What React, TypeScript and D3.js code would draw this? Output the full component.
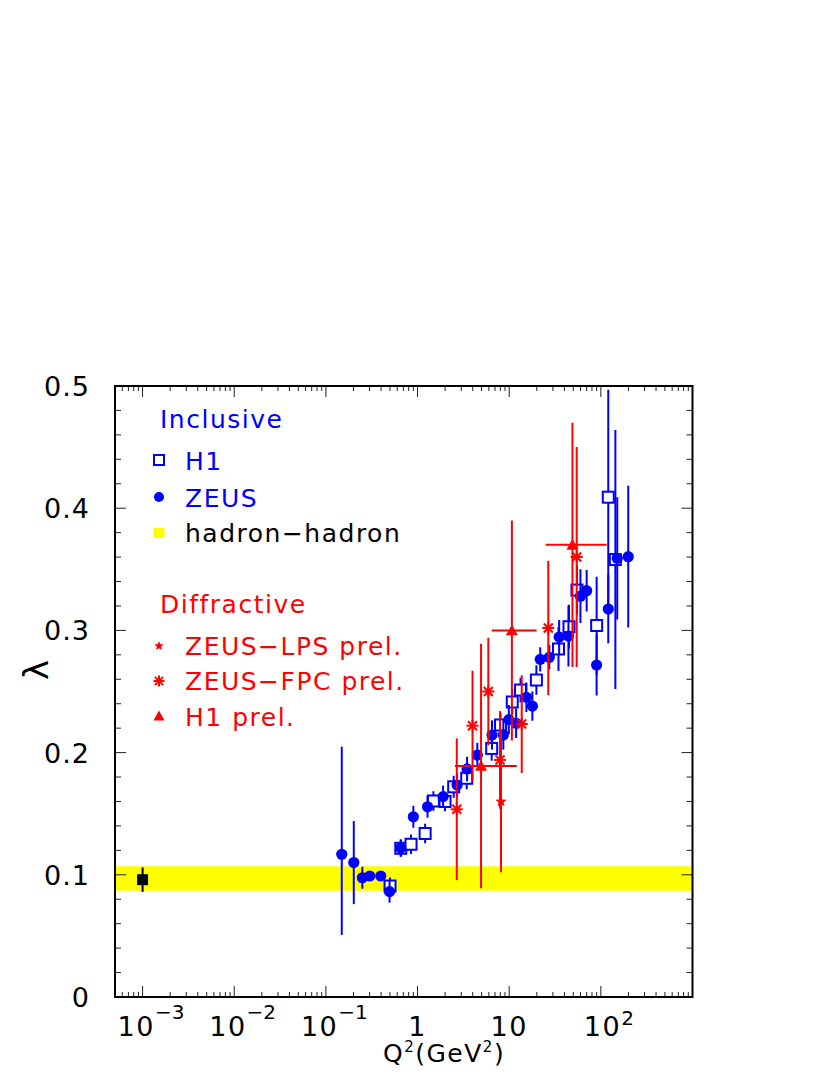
import React from 'react';
import * as d3 from 'd3';

// ---------- data ----------
// Inclusive H1 (open squares)
const h1Q2 = [0.501, 0.656, 0.849, 1.21, 1.49, 1.995, 2.48, 3.44, 6.44, 8.04, 10.8, 13.3, 19.8, 34.5, 44.9, 54.9, 90, 120.5, 144];
const h1Lambda = [0.0908, 0.1217, 0.125, 0.1338, 0.1604, 0.160, 0.172, 0.179, 0.2034, 0.2226, 0.2414, 0.2512, 0.2594, 0.2848, 0.303, 0.333, 0.304, 0.409, 0.358];
const h1Err = [0.007, 0.007, 0.008, 0.008, 0.008, 0.008, 0.009, 0.009, 0.01, 0.01, 0.01, 0.01, 0.012, 0.018, 0.018, 0.02, 0.04, 0.088, 0.106];

// Inclusive ZEUS (filled circles)
const zeusQ2 = [0.149, 0.2015, 0.25, 0.301, 0.397, 0.495, 0.656, 0.90, 1.285, 1.90, 2.70, 3.47, 4.49, 6.49, 8.63, 9.90, 11.9, 15.4, 17.9, 21.8, 27.4, 35.1, 44.3, 59.9, 70.0, 89.9, 120.5, 151, 199];
const zeusLambda = [0.1168, 0.110, 0.0976, 0.099, 0.099, 0.0862, 0.122, 0.1475, 0.1557, 0.164, 0.1735, 0.1866, 0.198, 0.2144, 0.2144, 0.227, 0.224, 0.2453, 0.238, 0.2763, 0.278, 0.2946, 0.2954, 0.328, 0.3325, 0.2717, 0.3175, 0.359, 0.3603];
const zeusErrUp = [0.088, 0.034, 0.009, 0.004, 0.003, 0.009, 0.007, 0.009, 0.009, 0.009, 0.01, 0.01, 0.01, 0.012, 0.012, 0.012, 0.012, 0.012, 0.012, 0.01, 0.01, 0.014, 0.025, 0.022, 0.017, 0.025, 0.028, 0.05, 0.058];
const zeusErrDown = [0.066, 0.034, 0.009, 0.004, 0.003, 0.009, 0.007, 0.009, 0.009, 0.009, 0.01, 0.01, 0.01, 0.012, 0.012, 0.012, 0.012, 0.012, 0.012, 0.01, 0.01, 0.014, 0.025, 0.022, 0.017, 0.025, 0.028, 0.05, 0.058];

// hadron-hadron
const hhQ2 = [0.001];
const hhLambda = [0.096];
const hhErr = [0.01];
const hhBand = [0.087, 0.107];

// Diffractive ZEUS-LPS prel. (small stars)
const lpsQ2 = [8.14];
const lpsLambda = [0.160];
const lpsErr = [0.058];

// Diffractive ZEUS-FPC prel. (asterisks)
const fpcQ2 = [2.68, 3.98, 5.92, 7.94, 13.7, 26.7, 54.5];
const fpcLambda = [0.1536, 0.222, 0.250, 0.194, 0.2234, 0.302, 0.360];
const fpcErr = [0.058, 0.045, 0.044, 0.040, 0.040, 0.055, 0.09];

// Diffractive H1 prel. (triangles)
const h1pQ2 = [4.93, 10.7, 49.0];
const h1pQ2Lo = [2.56, 6.44, 25.0];
const h1pQ2Hi = [12.1, 19.9, 115.6];
const h1pLambda = [0.189, 0.300, 0.370];
const h1pErr = [0.10, 0.09, 0.10];

// axis ticks
const xMajor = [1e-3, 1e-2, 1e-1, 1, 10, 100];
const xTickBase = ['10', '10', '10', '1', '10', '10'];
const xTickExp = ['\u22123', '\u22122', '\u22121', '', '', '2'];
const yMajor = [0, 0.1, 0.2, 0.3, 0.4, 0.5];
const yTickLabels = ['0', '0.1', '0.2', '0.3', '0.4', '0.5'];

const BLUE = '#0000ff';
const RED = '#ff0000';
const FONT = '"DejaVu Sans", sans-serif';

const L = 115, R = 692.5, T = 386, B = 997;

export default function App() {
  const x = d3.scaleLog().domain([5e-4, 1000]).range([L, R]);
  const y = d3.scaleLinear().domain([0, 0.5]).range([B, T]);

  // minor x ticks
  const xMinor: number[] = [];
  for (let e = -4; e <= 2; e++) {
    for (let m = 2; m <= 9; m++) {
      const v = m * Math.pow(10, e);
      if (v >= 5e-4 && v <= 1000) xMinor.push(v);
    }
  }
  const yMinor = d3.range(0, 0.5001, 0.02).filter((v) => Math.abs(v * 10 - Math.round(v * 10)) > 1e-6);

  const starPath = (cx: number, cy: number, Ro: number, Ri: number) => {
    const pts: string[] = [];
    for (let i = 0; i < 10; i++) {
      const r = i % 2 === 0 ? Ro : Ri;
      const a = -Math.PI / 2 + (i * Math.PI) / 5;
      pts.push(`${cx + r * Math.cos(a)},${cy + r * Math.sin(a)}`);
    }
    return 'M' + pts.join('L') + 'Z';
  };
  const asterisk = (cx: number, cy: number, h: number, key: string) => (
    <g key={key} stroke={RED} strokeWidth={2}>
      <line x1={cx - h} y1={cy} x2={cx + h} y2={cy} />
      <line x1={cx} y1={cy - h} x2={cx} y2={cy + h} />
      <line x1={cx - h * 0.75} y1={cy - h * 0.75} x2={cx + h * 0.75} y2={cy + h * 0.75} />
      <line x1={cx - h * 0.75} y1={cy + h * 0.75} x2={cx + h * 0.75} y2={cy - h * 0.75} />
    </g>
  );
  const triangle = (cx: number, cy: number, s: number) =>
    `M${cx},${cy - s}L${cx - s},${cy + s * 0.8}L${cx + s},${cy + s * 0.8}Z`;

  const legendText = { fontFamily: FONT, fontSize: 25, letterSpacing: 1.5 } as const;

  return (
    <svg width={830} height={1075} style={{ position: 'absolute', left: 0, top: 0, background: '#fff' }}>
      <rect x={0} y={0} width={830} height={1075} fill="#fff" />
      <defs>
        <clipPath id="frame">
          <rect x={L} y={T} width={R - L} height={B - T} />
        </clipPath>
      </defs>

      {/* yellow band */}
      <rect x={L} y={y(hhBand[1])} width={R - L} height={y(hhBand[0]) - y(hhBand[1])} fill="#ffff00" />

      <g clipPath="url(#frame)">
        {/* hadron-hadron point */}
        {hhQ2.map((q, i) => (
          <g key={'hh' + i}>
            <line x1={x(q)} x2={x(q)} y1={y(hhLambda[i] + hhErr[i])} y2={y(hhLambda[i] - hhErr[i])} stroke="#000" strokeWidth={2} />
            <rect x={x(q) - 5.5} y={y(hhLambda[i]) - 5.5} width={11} height={11} fill="#000" />
          </g>
        ))}

        {/* H1 inclusive */}
        {h1Q2.map((q, i) => (
          <g key={'h1' + i}>
            <line x1={x(q)} x2={x(q)} y1={y(h1Lambda[i] + h1Err[i])} y2={y(h1Lambda[i] - h1Err[i])} stroke={BLUE} strokeWidth={2} />
            <rect x={x(q) - 5.5} y={y(h1Lambda[i]) - 5.5} width={11} height={11} fill="#fff" stroke={BLUE} strokeWidth={2} />
          </g>
        ))}

        {/* ZEUS inclusive */}
        {zeusQ2.map((q, i) => (
          <g key={'z' + i}>
            <line x1={x(q)} x2={x(q)} y1={y(zeusLambda[i] + zeusErrUp[i])} y2={y(zeusLambda[i] - zeusErrDown[i])} stroke={BLUE} strokeWidth={2} />
            <circle cx={x(q)} cy={y(zeusLambda[i])} r={5.6} fill={BLUE} />
          </g>
        ))}

        {/* H1 prel. triangles */}
        {h1pQ2.map((q, i) => (
          <g key={'h1p' + i}>
            <line x1={x(q)} x2={x(q)} y1={y(h1pLambda[i] + h1pErr[i])} y2={y(h1pLambda[i] - h1pErr[i])} stroke={RED} strokeWidth={2} />
            <line x1={x(h1pQ2Lo[i])} x2={x(h1pQ2Hi[i])} y1={y(h1pLambda[i])} y2={y(h1pLambda[i])} stroke={RED} strokeWidth={2} />
            <path d={triangle(x(q), y(h1pLambda[i]), 6)} fill={RED} />
          </g>
        ))}

        {/* ZEUS-FPC asterisks */}
        {fpcQ2.map((q, i) => (
          <g key={'fpc' + i}>
            <line x1={x(q)} x2={x(q)} y1={y(fpcLambda[i] + fpcErr[i])} y2={y(fpcLambda[i] - fpcErr[i])} stroke={RED} strokeWidth={2} />
            {asterisk(x(q), y(fpcLambda[i]), 6, 'fa' + i)}
          </g>
        ))}

        {/* ZEUS-LPS stars */}
        {lpsQ2.map((q, i) => (
          <g key={'lps' + i}>
            <line x1={x(q)} x2={x(q)} y1={y(lpsLambda[i] + lpsErr[i])} y2={y(lpsLambda[i] - lpsErr[i])} stroke={RED} strokeWidth={2} />
            <path d={starPath(x(q), y(lpsLambda[i]), 6, 2.6)} fill={RED} />
          </g>
        ))}
      </g>

      {/* ticks */}
      <g stroke="#222" strokeWidth={1}>
        {xMajor.map((v, i) => (
          <g key={'xM' + i}>
            <line x1={x(v)} x2={x(v)} y1={B} y2={B - 11} />
            <line x1={x(v)} x2={x(v)} y1={T} y2={T + 11} />
          </g>
        ))}
        {xMinor.map((v, i) => (
          <g key={'xm' + i}>
            <line x1={x(v)} x2={x(v)} y1={B} y2={B - 5} />
            <line x1={x(v)} x2={x(v)} y1={T} y2={T + 5} />
          </g>
        ))}
        {yMajor.map((v, i) => (
          <g key={'yM' + i}>
            <line x1={L} x2={L + 11} y1={y(v)} y2={y(v)} />
            <line x1={R} x2={R - 11} y1={y(v)} y2={y(v)} />
          </g>
        ))}
        {yMinor.map((v, i) => (
          <g key={'ym' + i}>
            <line x1={L} x2={L + 6} y1={y(v)} y2={y(v)} />
            <line x1={R} x2={R - 6} y1={y(v)} y2={y(v)} />
          </g>
        ))}
      </g>

      {/* frame */}
      <rect x={L} y={T} width={R - L} height={B - T} fill="none" stroke="#000" strokeWidth={2} />

      {/* y tick labels */}
      {yMajor.map((v, i) => (
        <text key={'yl' + i} x={90} y={y(v) + 10} textAnchor="end" fontFamily={FONT} fontSize={27} letterSpacing={1} fill="#000">
          {yTickLabels[i]}
        </text>
      ))}

      {/* x tick labels */}
      {xMajor.map((v, i) => {
        const cx = x(v);
        if (!xTickExp[i]) {
          return (
            <text key={'xl' + i} x={cx} y={1036} textAnchor="middle" fontFamily={FONT} fontSize={27} letterSpacing={1.5} fill="#000">
              {xTickBase[i]}
            </text>
          );
        }
        const neg = xTickExp[i].startsWith('\u2212');
        return (
          <text key={'xl' + i} x={cx - (neg ? 25 : 17)} y={1036} fontFamily={FONT} fontSize={27} letterSpacing={1.5} fill="#000">
            {xTickBase[i]}
            <tspan dy={neg ? -17 : -11} fontSize={20} letterSpacing={0}>{xTickExp[i]}</tspan>
          </text>
        );
      })}

      {/* axis titles */}
      <text x={383} y={1062} fontFamily={FONT} fontSize={25} letterSpacing={1.5} fill="#000">
        Q<tspan dy={-10} fontSize={15}>2</tspan>
        <tspan dy={10}>(GeV</tspan>
        <tspan dy={-10} fontSize={15}>2</tspan>
        <tspan dy={10}>)</tspan>
      </text>
      <text x={0} y={0} transform="translate(48,670) rotate(-90)" textAnchor="middle" fontFamily={FONT} fontSize={34} fill="#000">
        λ
      </text>

      {/* legend */}
      <text x={160} y={428} fill={BLUE} {...legendText}>Inclusive</text>
      <rect x={159 - 5} y={460 - 5} width={10} height={10} fill="#fff" stroke={BLUE} strokeWidth={2} />
      <text x={185} y={470} fill={BLUE} {...legendText}>H1</text>
      <circle cx={159} cy={497} r={5} fill={BLUE} />
      <text x={185} y={507} fill={BLUE} {...legendText}>ZEUS</text>
      <rect x={159 - 5.5} y={533 - 5} width={11} height={10} fill="#ffff00" />
      <text x={185} y={542} fill="#000" {...legendText}>hadron−hadron</text>

      <text x={160} y={613} fill={RED} {...legendText}>Diffractive</text>
      <path d={starPath(159, 646, 5, 2.2)} fill={RED} />
      <text x={185} y={655} fill={RED} {...legendText}>ZEUS−LPS prel.</text>
      {asterisk(159, 681, 5.5, 'lgA')}
      <text x={185} y={690} fill={RED} {...legendText}>ZEUS−FPC prel.</text>
      <path d={triangle(159, 716, 5.5)} fill={RED} />
      <text x={185} y={726} fill={RED} {...legendText}>H1 prel.</text>
    </svg>
  );
}
